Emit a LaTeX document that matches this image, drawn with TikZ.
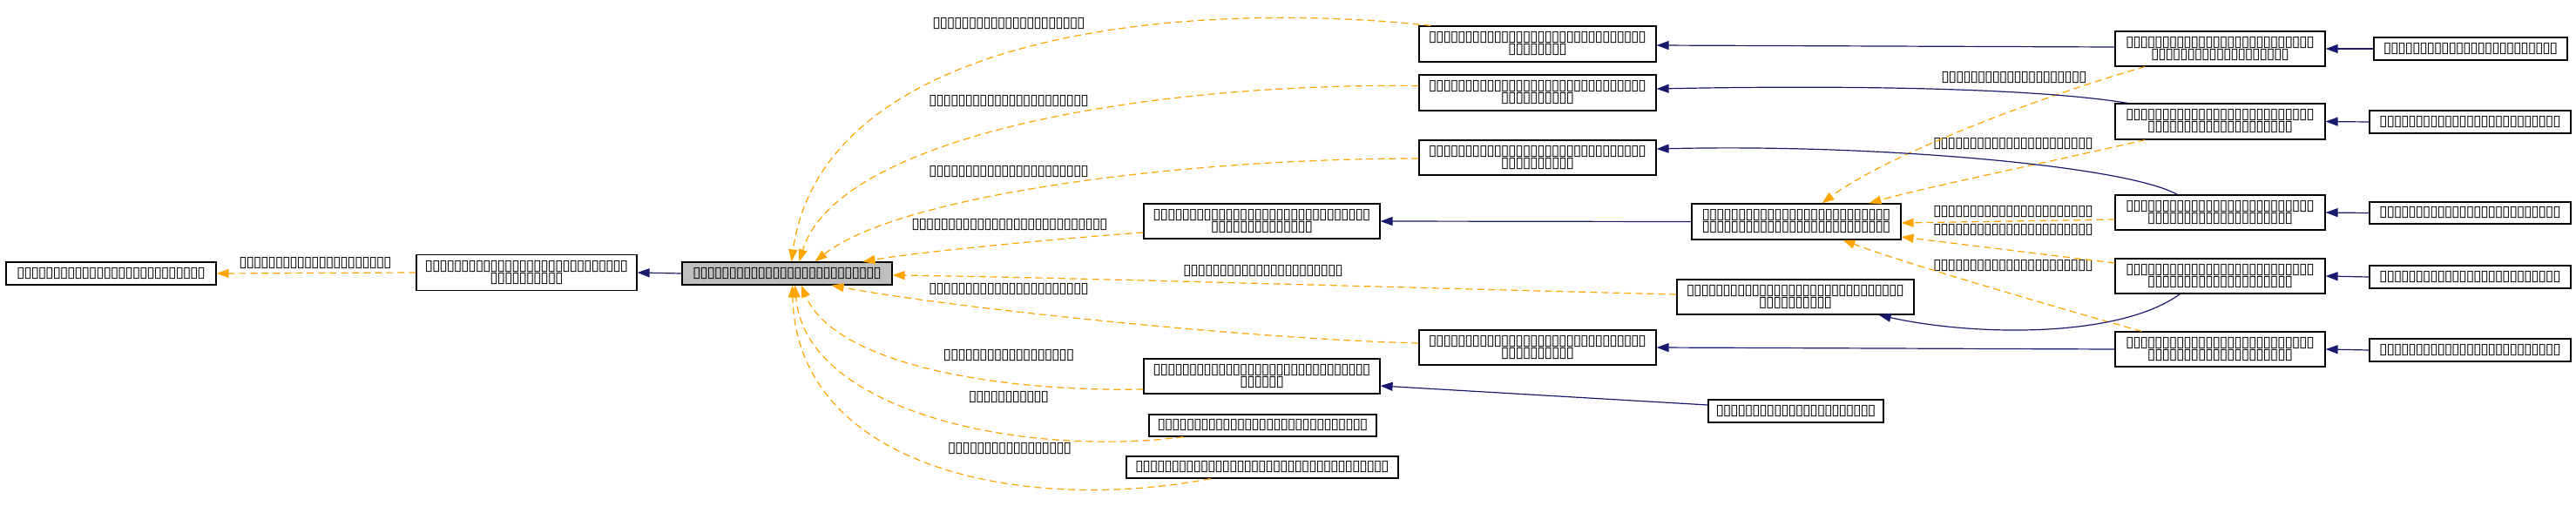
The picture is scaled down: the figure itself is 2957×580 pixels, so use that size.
\documentclass[tikz,border=0pt]{standalone}
\usepackage{fontspec}
\newfontfamily\tofufont{DejaVu Sans}
\usetikzlibrary{arrows.meta,calc}
\definecolor{navyC}{HTML}{191970}
\definecolor{orangeC}{HTML}{FFA500}
\definecolor{grayC}{HTML}{BFBFBF}
\ExplSyntaxOn
\cs_new:Npn \tofu #1 { \prg_replicate:nn {#1} { \makebox[4.15pt]{▯} } }
\ExplSyntaxOff
\begin{document}
\begin{tikzpicture}[x=0.5pt,y=-0.5pt,
  txt/.style={font=\tofufont\fontsize{8.6}{7}\selectfont},
  box/.style={txt, draw=black, line width=0.6pt, fill=white, inner sep=0pt, align=center},
  sz/.style 2 args={minimum width=#1*0.5pt, minimum height=#2*0.5pt},
  lbl/.style={txt, inner sep=0pt},
  dep/.style={draw=orangeC, line width=0.6pt, dash pattern=on 4pt off 2.5pt, -{Triangle[length=7pt,width=5pt,fill=orangeC]}},
  uses/.style={draw=navyC, line width=0.6pt, -{Triangle[length=7pt,width=5pt,fill=navyC]}}
]
\useasboundingbox (0,0) rectangle (2957,580);
% left part
\node[box, sz={241}{26}] (L) at (127.5,314) {\tofu{26}};
\node[box, sz={253}{41}] (N2) at (604.5,313) {\tofu{28}\\\tofu{10}};
\node[box, sz={241}{26}, fill=grayC] (M) at (903.5,314) {\tofu{26}};
% middle column
\node[box, sz={272}{41}] (A) at (1765,50.5) {\tofu{30}\\\tofu{8}};
\node[box, sz={272}{41}] (B) at (1765,106.5) {\tofu{30}\\\tofu{10}};
\node[box, sz={272}{40}] (C) at (1765,181) {\tofu{30}\\\tofu{10}};
\node[box, sz={271}{40}] (D) at (1448.5,254) {\tofu{30}\\\tofu{14}};
\node[box, sz={272}{40}] (G) at (1765,399) {\tofu{30}\\\tofu{10}};
\node[box, sz={271}{40}] (H) at (1448.5,432) {\tofu{30}\\\tofu{6}};
\node[box, sz={261}{25}] (I) at (1449.5,488.5) {\tofu{29}};
\node[box, sz={312}{25}] (J) at (1449,536.5) {\tofu{35}};
% second column
\node[box, sz={240}{41}] (E) at (2062,254.5) {\tofu{26}\\\tofu{26}};
\node[box, sz={272}{40}] (F) at (2061,341) {\tofu{30}\\\tofu{10}};
\node[box, sz={201}{26}] (K) at (2061.5,472) {\tofu{22}};
% right columns
\node[box, sz={241}{40}] (R1) at (2548.5,56) {\tofu{26}\\\tofu{19}};
\node[box, sz={241}{41}] (R2) at (2548.5,139.5) {\tofu{26}\\\tofu{20}};
\node[box, sz={241}{40}] (R3) at (2548.5,244) {\tofu{26}\\\tofu{20}};
\node[box, sz={241}{40}] (R4) at (2548.5,317) {\tofu{26}\\\tofu{20}};
\node[box, sz={241}{40}] (R5) at (2548.5,401) {\tofu{26}\\\tofu{20}};
\node[box, sz={222}{26}] (FR1) at (2836,56) {\tofu{24}};
\node[box, sz={231}{26}] (FR2) at (2835.5,140) {\tofu{25}};
\node[box, sz={231}{25}] (FR3) at (2835.5,244.5) {\tofu{25}};
\node[box, sz={231}{26}] (FR4) at (2835.5,318) {\tofu{25}};
\node[box, sz={231}{26}] (FR5) at (2835.5,402) {\tofu{25}};
% labels
\node[lbl] (lL) at (362,302) {\tofu{21}};
\node[lbl] (lA) at (1158,27) {\tofu{21}};
\node[lbl] (lB) at (1158,116) {\tofu{22}};
\node[lbl] (lC) at (1158,197) {\tofu{22}};
\node[lbl] (lD) at (1159,258) {\tofu{27}};
\node[lbl] (lF) at (1450,311) {\tofu{22}};
\node[lbl] (lG) at (1158,332) {\tofu{22}};
\node[lbl] (lH) at (1158,408) {\tofu{18}};
\node[lbl] (lI) at (1158,456) {\tofu{11}};
\node[lbl] (lJ) at (1159,515) {\tofu{17}};
\node[lbl] (lR1) at (2312,89) {\tofu{20}};
\node[lbl] (lR2) at (2311,165) {\tofu{22}};
\node[lbl] (lR3) at (2311,243) {\tofu{22}};
\node[lbl] (lR4) at (2311,264) {\tofu{22}};
\node[lbl] (lR5) at (2311,305) {\tofu{22}};
% orange dashed edges
\draw[dep] (N2.west) -- (L.east);
\draw[dep] ($(A.north west)+(14,0)$) .. controls (1350,-2) and (945,40) .. ($(M.north)+(5,0)$);
\draw[dep] ($(B.west)+(0,-8)$) .. controls (1300,95) and (960,160) .. ($(M.north)+(14,0)$);
\draw[dep] ($(C.west)+(0,1)$) .. controls (1350,182) and (1030,225) .. ($(M.north)+(32,0)$);
\draw[dep] ($(D.west)+(0,13)$) .. controls (1200,275) and (1050,290) .. ($(M.north)+(87,0)$);
\draw[dep] ($(F.west)+(0,-3)$) .. controls (1600,330) and (1200,318) .. ($(M.east)+(0,2)$);
\draw[dep] ($(G.west)+(0,-5)$) .. controls (1450,390) and (1100,355) .. ($(M.south)+(51,0)$);
\draw[dep] ($(H.west)+(0,15)$) .. controls (1150,450) and (960,420) .. ($(M.south)+(16,0)$);
\draw[dep] ($(I.south west)+(40,0)$) .. controls (1180,525) and (925,475) .. ($(M.south)+(9,0)$);
\draw[dep] ($(J.south west)+(97,0)$) .. controls (1180,590) and (915,540) .. ($(M.south)+(6,0)$);
\draw[dep] ($(R1.south west)+(35,0)$) .. controls (2360,105) and (2170,175) .. ($(E.north west)+(150,0)$);
\draw[dep] ($(R2.south west)+(35,0)$) .. controls (2380,180) and (2210,215) .. ($(E.north west)+(204,0)$);
\draw[dep] ($(R3.west)+(0,8)$) -- ($(E.east)+(0,1.5)$);
\draw[dep] ($(R4.west)+(0,-15)$) -- ($(E.east)+(0,17.5)$);
\draw[dep] ($(R5.north west)+(31,0)$) .. controls (2350,350) and (2180,300) .. ($(E.south west)+(174,0)$);
% navy solid edges
\draw[uses] (M.west) -- (N2.east);
\draw[uses] ($(R1.west)+(0,-2)$) -- ($(A.east)+(0,1.5)$);
\draw[uses] ($(R2.north west)+(15,0)$) .. controls (2330,100) and (2100,98) .. ($(B.east)+(0,-4.5)$);
\draw[uses] ($(R3.north west)+(72,0)$) .. controls (2440,190) and (2150,165) .. ($(C.east)+(0,-10)$);
\draw[uses] (E.west) -- (D.east);
\draw[uses] ($(R4.south west)+(75,0)$) .. controls (2430,390) and (2260,385) .. ($(F.south east)+(-41,0)$);
\draw[uses] (R5.west) -- (G.east);
\draw[uses] ($(K.west)+(0,-7)$) -- ($(H.east)+(0,11)$);
\draw[uses] (FR1.west) -- (R1.east);
\draw[uses] (FR2.west) -- (R2.east);
\draw[uses] (FR3.west) -- (R3.east);
\draw[uses] (FR4.west) -- (R4.east);
\draw[uses] (FR5.west) -- (R5.east);
\end{tikzpicture}
\end{document}
